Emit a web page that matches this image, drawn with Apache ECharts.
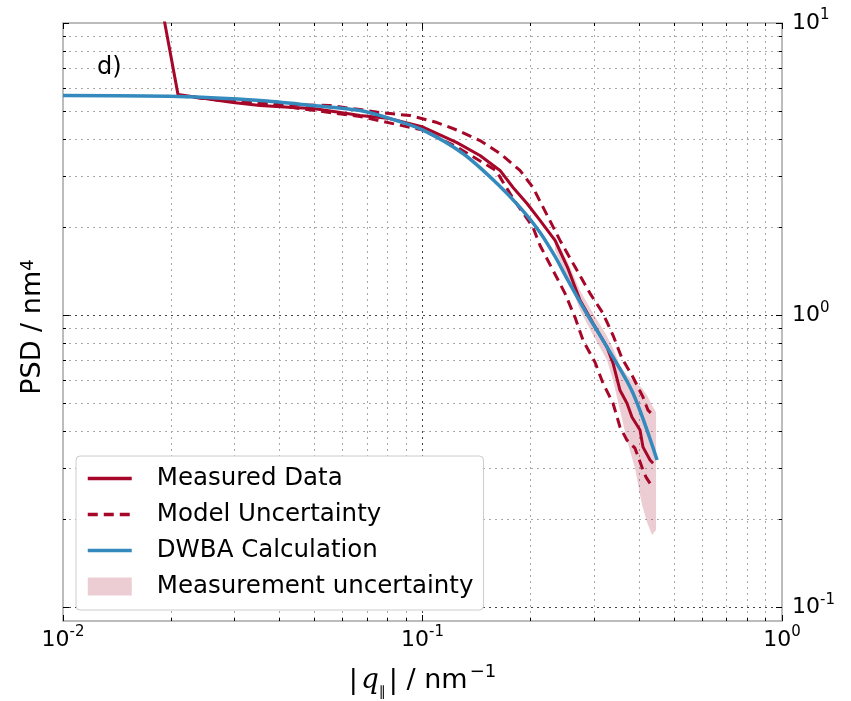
<!DOCTYPE html>
<html>
<head>
<meta charset="utf-8">
<script src="https://cdn.jsdelivr.net/npm/echarts@6/dist/echarts.min.js"></script>
<style>
  html, body { margin: 0; padding: 0; background: #fff; }
  #chart { width: 851px; height: 701px; }
</style>
</head>
<body>
<div id="chart"></div>
<script>
// PSD vs |q| on log-log axes

const measuredQ = [0.01898, 0.02089, 0.02483, 0.02971, 0.03532, 0.04364, 0.04960, 0.05426, 0.06166, 0.06702,
  0.08121, 0.1003, 0.1247, 0.1445, 0.1643, 0.1786, 0.1953, 0.2123, 0.2337, 0.2539, 0.2743, 0.2981, 0.3261,
  0.3388, 0.3543, 0.3705, 0.3827, 0.4027, 0.4106, 0.4294, 0.4378];
const measuredPsd = [10.76, 5.689, 5.514, 5.343, 5.219, 5.137, 5.097, 5.018, 4.900, 4.824,
  4.710, 4.406, 3.899, 3.522, 3.130, 2.737, 2.413, 2.111, 1.804, 1.447, 1.125, 0.939, 0.778,
  0.686, 0.554, 0.500, 0.448, 0.405, 0.354, 0.320, 0.312];

const upperQ = [0.02089, 0.02971, 0.04364, 0.05530, 0.06702, 0.07616, 0.09231, 0.1097, 0.1247, 0.1445,
  0.1643, 0.1867, 0.2029, 0.2413, 0.2924, 0.3177, 0.3388, 0.3587, 0.3851, 0.4106, 0.4239, 0.4378];
const upperPsd = [5.645, 5.385, 5.260, 5.219, 5.057, 4.937, 4.824, 4.565, 4.302, 3.962,
  3.577, 3.130, 2.737, 1.804, 1.189, 1.016, 0.8545, 0.7131, 0.6141, 0.5247, 0.4737, 0.4552];

const lowerQ = [0.02089, 0.04364, 0.06702, 0.1003, 0.1247, 0.1601, 0.1786, 0.2029, 0.2123, 0.2491,
  0.2656, 0.2796, 0.3019, 0.3177, 0.3388, 0.3543, 0.3705, 0.3900, 0.4106, 0.4185, 0.4378];
const lowerPsd = [5.645, 5.137, 4.786, 4.302, 3.763, 3.130, 2.510, 1.999, 1.734, 1.189,
  0.9844, 0.8214, 0.6910, 0.5858, 0.5003, 0.4144, 0.3740, 0.3512, 0.2954, 0.2796, 0.2563];

const dwbaQ = [0.01, 0.02089, 0.03532, 0.04960, 0.06702, 0.08121, 0.1003, 0.1296, 0.1612, 0.1867,
  0.2123, 0.2337, 0.2539, 0.2858, 0.3261, 0.3851, 0.4492];
const dwbaPsd = [5.645, 5.601, 5.428, 5.219, 5.018, 4.710, 4.302, 3.577, 2.825, 2.339,
  1.921, 1.590, 1.317, 1.018, 0.778, 0.541, 0.320];

const bandQ = [0.2337, 0.2539, 0.2743, 0.2981, 0.3261, 0.3388, 0.3543, 0.3705, 0.3900, 0.4080,
  0.4212, 0.4349, 0.4463];
const bandUpper = [1.862, 1.517, 1.217, 1.016, 0.8477, 0.7714, 0.6749, 0.6237, 0.5902, 0.5630,
  0.5330, 0.4925, 0.4661];
const bandLower = [1.668, 1.338, 1.040, 0.8545, 0.7020, 0.5995, 0.4737, 0.3740, 0.3001, 0.2243,
  0.1963, 0.1772, 0.1843];

const xMajor = [0.01, 0.1, 1];
const yMajor = [0.1, 1, 10];

const red = '#A60628';
const blue = '#348ABD';
const pink = 'rgba(166,6,40,0.2)';
const frame = '#bcbcbc';
const font = 'DejaVu Sans';

const pairs = (xs, ys) => xs.map((x, i) => [x, ys[i]]);

// 1..9 x each decade, closing with the last major
function withMinor(majors) {
  const out = [];
  for (let i = 0; i < majors.length - 1; i++) {
    for (let k = 1; k < 10; k++) out.push(+(majors[i] * k).toPrecision(3));
  }
  out.push(majors[majors.length - 1]);
  return out;
}

function powLabel(v) {
  const e = Math.round(Math.log10(v));
  return '{b|10}{s|' + e + '}';
}

const labelRich = {
  b: { fontSize: 22, lineHeight: 30, fontFamily: font, color: '#000' },
  s: { fontSize: 15, lineHeight: 15, verticalAlign: 'top', fontFamily: font, color: '#000' }
};

const gridColors = ['#444', '#a8a8a8', '#a8a8a8', '#a8a8a8', '#a8a8a8', '#a8a8a8', '#a8a8a8', '#a8a8a8', '#a8a8a8'];

function makeAxis(pos, min, max, majors, opts) {
  const isMajor = opts.major;
  return Object.assign({
    type: 'log',
    logBase: 10,
    position: pos,
    min: min,
    max: max,
    axisLine: { show: !isMajor, onZero: false, lineStyle: { color: frame, width: 2 } },
    axisTick: {
      show: true, inside: true, length: isMajor ? 6 : 3,
      customValues: isMajor ? majors : withMinor(majors),
      lineStyle: { color: '#000', width: 1 }
    },
    axisLabel: { show: false },
    splitLine: { show: false },
    nameMoveOverlap: false
  }, opts.extra || {});
}

// pink band between bandLower and bandUpper, drawn once as a polygon
function renderBand(params, api) {
  if (params.dataIndex !== 0) return null;
  const top = bandQ.map((q, i) => api.coord([q, bandUpper[i]]));
  const bottom = bandQ.map((q, i) => api.coord([q, bandLower[i]])).reverse();
  return {
    type: 'polygon',
    shape: { points: top.concat(bottom) },
    style: { fill: pink }
  };
}

const chart = echarts.init(document.getElementById('chart'));

const option = {
  animation: false,
  backgroundColor: '#fff',
  title: {
    text: 'd)', left: 97, top: 56, padding: 0,
    textStyle: { fontSize: 24, fontWeight: 'normal', fontFamily: font, color: '#000' }
  },
  grid: { left: 63, right: 69, top: 23, bottom: 80, outerBoundsMode: 'none', containLabel: false },
  legend: {
    orient: 'vertical', left: 76, top: 456,
    padding: [10, 10, 11, 10], itemGap: 11, itemWidth: 44, itemHeight: 18,
    backgroundColor: '#fff', borderColor: '#cccccc', borderWidth: 1, borderRadius: 4,
    itemStyle: { opacity: 0 },
    lineStyle: { width: 3.5 },
    formatter: n => '{t|' + n + '}',
    textStyle: {
      fontSize: 24.5, fontFamily: font, color: '#000',
      rich: { t: { fontSize: 24.5, lineHeight: 26, fontFamily: font, color: '#000', padding: [0, 0, 0, 20] } }
    },
    data: [
      { name: 'Measured Data' },
      { name: 'Model Uncertainty' },
      { name: 'DWBA Calculation' },
      { name: 'Measurement uncertainty', icon: 'rect', itemStyle: { color: pink, opacity: 1, borderWidth: 0 } }
    ]
  },
  xAxis: [
    makeAxis('bottom', 0.01, 1, xMajor, { extra: {
      axisLabel: { show: true, customValues: xMajor, formatter: powLabel, margin: 4, rich: labelRich },
      splitLine: { show: true, lineStyle: { color: gridColors, width: 1, type: [2, 4] } },
      name: '{n||}{i|q}{u|∥}{n|| / nm}{s|−1}',
      nameLocation: 'middle', nameGap: 42,
      nameTextStyle: {
        fontSize: 27, fontFamily: font, color: '#000',
        rich: {
          n: { fontSize: 27, lineHeight: 36, fontFamily: font, color: '#000' },
          i: { fontSize: 28, lineHeight: 36, fontFamily: 'DejaVu Serif', fontStyle: 'italic', color: '#000', padding: [0, 0, 0, 3] },
          u: { fontSize: 14, lineHeight: 26, verticalAlign: 'bottom', fontFamily: font, color: '#000', padding: [0, 3, 0, 0] },
          s: { fontSize: 18, lineHeight: 18, verticalAlign: 'top', fontFamily: font, color: '#000', padding: [0, 0, 0, 2] }
        }
      }
    } }),
    makeAxis('bottom', 0.01, 1, xMajor, { major: true }),
    makeAxis('top', 0.01, 1, xMajor, {}),
    makeAxis('top', 0.01, 1, xMajor, { major: true })
  ],
  yAxis: [
    makeAxis('left', 0.09, 10, yMajor, { extra: {
      splitLine: { show: true, lineStyle: { color: gridColors, width: 1, type: [2, 4] } },
      name: 'PSD / nm{s|4}',
      nameLocation: 'middle', nameGap: 17, nameRotate: 90,
      nameTextStyle: {
        fontSize: 27, fontFamily: font, color: '#000', padding: [0, 10, 0, 0],
        rich: {
          s: { fontSize: 18, lineHeight: 18, verticalAlign: 'top', fontFamily: font, color: '#000' }
        }
      }
    } }),
    makeAxis('left', 0.09, 10, yMajor, { major: true }),
    makeAxis('right', 0.09, 10, yMajor, { extra: {
      axisLabel: { show: true, customValues: yMajor, formatter: powLabel, margin: 10, rich: labelRich }
    } }),
    makeAxis('right', 0.09, 10, yMajor, { major: true })
  ],
  series: [
    {
      name: 'Measurement uncertainty', type: 'custom', silent: true, z: 1,
      data: bandQ.map((q, i) => [q, bandLower[i], bandUpper[i]]),
      encode: { x: 0, y: [1, 2] },
      itemStyle: { color: pink },
      renderItem: renderBand
    },
    {
      name: 'Measured Data', type: 'line', symbol: 'none',
      data: pairs(measuredQ, measuredPsd),
      lineStyle: { color: red, width: 3 }, itemStyle: { color: red }, z: 3
    },
    {
      name: 'Model Uncertainty', type: 'line', symbol: 'none',
      data: pairs(upperQ, upperPsd),
      lineStyle: { color: red, width: 3, type: [10, 6] }, itemStyle: { color: red }, z: 3
    },
    {
      name: 'Model Uncertainty', type: 'line', symbol: 'none',
      data: pairs(lowerQ, lowerPsd),
      lineStyle: { color: red, width: 3, type: [10, 6] }, itemStyle: { color: red }, z: 3
    },
    {
      name: 'DWBA Calculation', type: 'line', symbol: 'none', smooth: 0.3,
      data: pairs(dwbaQ, dwbaPsd),
      lineStyle: { color: blue, width: 3.5 }, itemStyle: { color: blue }, z: 4
    }
  ]
};

chart.setOption(option);
</script>
</body>
</html>
